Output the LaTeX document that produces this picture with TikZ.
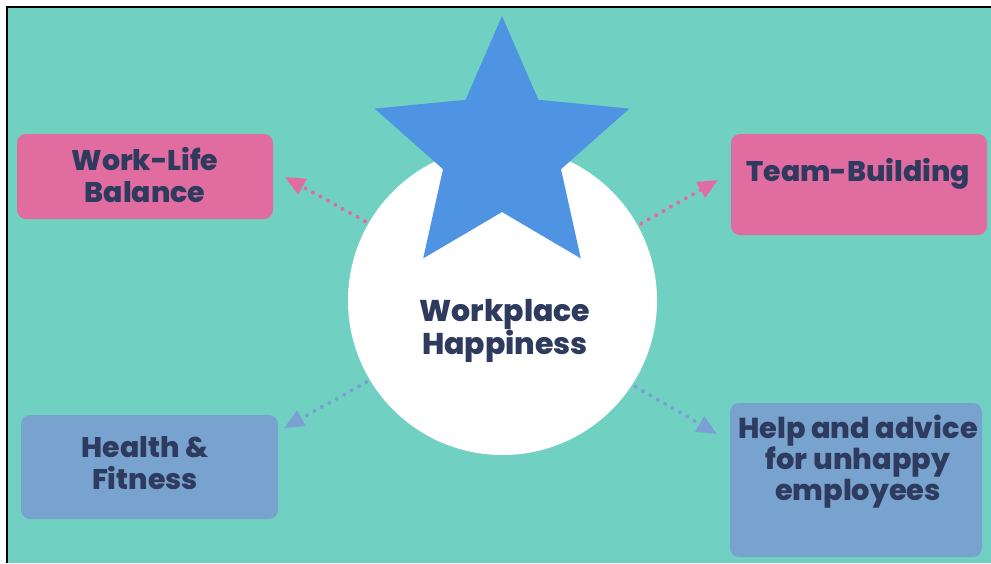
\documentclass[tikz,border=0pt]{standalone}
\usepackage{fontspec}
\setmainfont{Poppins}[BoldFont={Poppins ExtraBold}]
\usetikzlibrary{arrows.meta}
\definecolor{bgteal}{HTML}{70D1C3}
\definecolor{pinkc}{HTML}{E16C9F}
\definecolor{bluec}{HTML}{79A3CF}
\definecolor{bluearrow}{HTML}{7BA0D3}
\definecolor{starc}{HTML}{4F93E3}
\definecolor{ink}{HTML}{2E3A5E}
\begin{document}
\begin{tikzpicture}[x=1pt,y=-1pt,
  lbl/.style={font=\fontsize{28.4}{32}\selectfont\bfseries, text=ink, align=center, inner sep=0pt},
  boxshape/.style={rectangle, rounded corners=9pt, inner sep=0pt, draw=none},
  pinkbox/.style={boxshape, fill=pinkc},
  bluebox/.style={boxshape, fill=bluec},
  conn/.style={line width=4pt, dash pattern=on 0pt off 8.5pt, line cap=round, shorten <=4pt,
     -{Triangle[length=20pt,width=17pt,line cap=butt]}}]
\useasboundingbox (0,0) rectangle (991,563);
% background panel
\fill[bgteal] (7,7) rectangle (991,563);
\draw[black, line width=2pt] (7,563) -- (7,7) -- (991,7);
% hub circle
\node[circle, fill=white, minimum size=309pt, inner sep=0pt] (hub) at (502.5,300.5) {};
% star
\fill[starc] (502,16) -- (538.4,99.8) -- (629.4,108.6) -- (561,169.2) -- (580.8,258.4)
  -- (502,212) -- (423.2,258.4) -- (443,169.2) -- (374.6,108.6) -- (465.6,99.8) -- cycle;
\node[lbl, font=\fontsize{30}{33}\selectfont\bfseries] (hubT) at (505,330.5) {Workplace\\Happiness};
% boxes
\node[pinkbox, minimum width=256pt, minimum height=85pt] (wl) at (145,176.5) {};
\node[lbl] (wlT) at (145,175.5) {Work-Life\\Balance};
\node[pinkbox, minimum width=256pt, minimum height=101pt] (tb) at (859,184.5) {};
\node[lbl] (tbT) at (858.5,174) {Team-Building};
\node[bluebox, minimum width=257pt, minimum height=104pt] (hf) at (149.5,467) {};
\node[lbl] (hfT) at (145,463) {Health \&\\Fitness};
\node[bluebox, minimum width=252pt, minimum height=154pt] (ha) at (856,480) {};
\node[lbl, font=\fontsize{28.8}{31}\selectfont\bfseries] (haT) at (858,462) {Help and advice\\for unhappy\\employees};
% arrow tips
\coordinate (tipWL) at (285,177);
\coordinate (tipTB) at (718,180);
\coordinate (tipHF) at (284,428);
\coordinate (tipHA) at (717,434);
\draw[conn, pinkc] (hub.150) -- (tipWL);
\draw[conn, pinkc] (hub.29) -- (tipTB);
\draw[conn, bluearrow] (hub.211) -- (tipHF);
\draw[conn, bluearrow] (hub.327) -- (tipHA);
\end{tikzpicture}
\end{document}
